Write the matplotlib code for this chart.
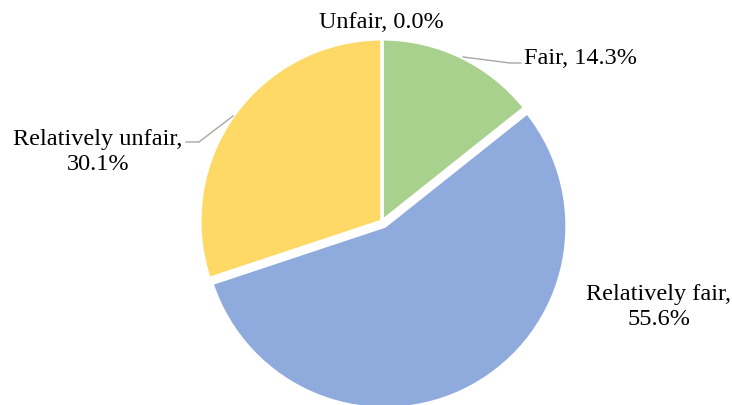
import matplotlib.pyplot as plt

# Datos del gráfico (en el orden de las agujas del reloj desde arriba)
categorias = ['Fair', 'Relatively fair', 'Relatively unfair', 'Unfair']
valores = [14.3, 55.6, 30.1, 0.0]
colores = ['#A9D18E', '#8FAADC', '#FFD966', '#F4B183']
separacion = [0, 6, 0, 0]  # en píxeles (unidades de datos)

plt.rcParams['font.family'] = ['Liberation Serif', 'DejaVu Serif']

fig = plt.figure(figsize=(7.32, 4.06), dpi=100)
ax = fig.add_axes([0, 0, 1, 1])

cx, cy, r = 382, 406 - 222, 182
ax.pie(valores, colors=colores, startangle=90, counterclock=False,
       center=(cx, cy), radius=r, explode=separacion,
       wedgeprops=dict(edgecolor='white', linewidth=2.2), frame=True)
ax.set_xlim(0, 732)
ax.set_ylim(0, 406)
ax.set_aspect('equal')
ax.axis('off')

def etiqueta(i, sep=', '):
    return f"{categorias[i]}{sep}{valores[i]:.1f}%"

fs = 17.5
# Etiquetas
ax.text(381, 406 - 22, etiqueta(3), ha='center', va='center', fontsize=fs)
ax.text(524, 406 - 58, etiqueta(0), ha='left', va='center', fontsize=fs)
ax.text(98, 406 - 152, etiqueta(2, ',\n'), ha='center', va='center',
        fontsize=fs, multialignment='center', linespacing=1.3)
ax.text(659, 406 - 307, etiqueta(1, ',\n'), ha='center', va='center',
        fontsize=fs, multialignment='center', linespacing=1.3)

# Líneas guía
ax.plot([463, 510, 521], [406 - 58, 406 - 64, 406 - 64], color='#A6A6A6', lw=1.0)
ax.plot([186, 199, 233], [406 - 143, 406 - 143, 406 - 117], color='#A6A6A6', lw=1.0)

fig.savefig('out.png', dpi=100)
